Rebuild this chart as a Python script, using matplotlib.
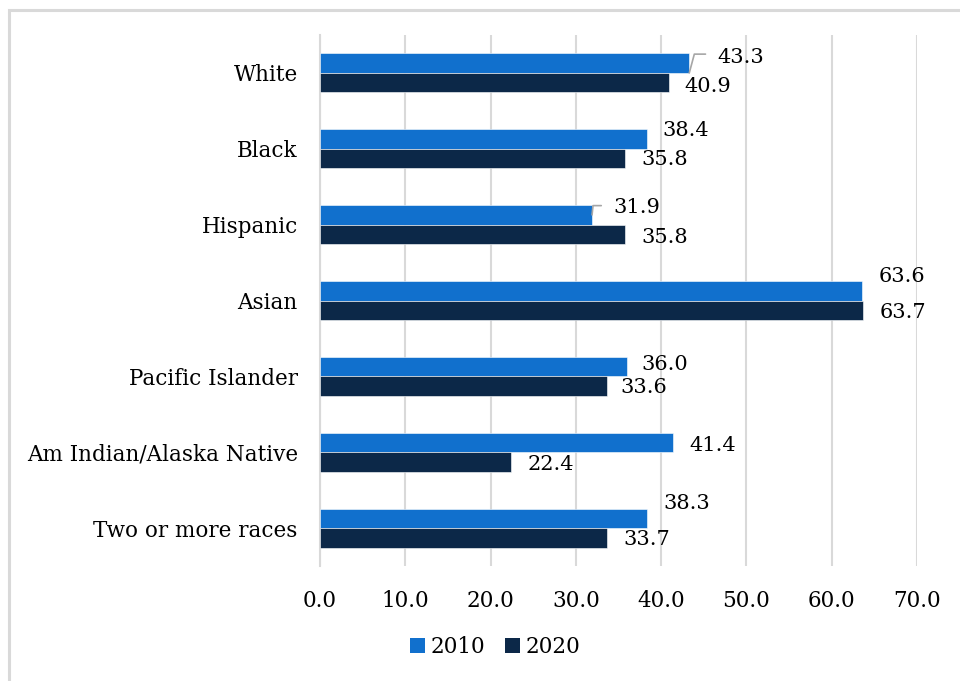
import matplotlib
matplotlib.use('Agg')
import matplotlib.pyplot as plt
from matplotlib.patches import Rectangle, Patch
import numpy as np

groups = ['White', 'Black', 'Hispanic', 'Asian', 'Pacific Islander',
          'Am Indian/Alaska Native', 'Two or more races']
vals_2010 = [43.3, 38.4, 31.9, 63.6, 36.0, 41.4, 38.3]
vals_2020 = [40.9, 35.8, 35.8, 63.7, 33.6, 22.4, 33.7]
xticks = [0, 10, 20, 30, 40, 50, 60, 70]

# label nudges in pixels (dx, dy up)
off_2010 = [(28, 15), (15, 9), (21, 7), (16, 14), (14, 2), (16, -3), (17, 15)]
off_2020 = [(16, -4), (16, -1), (16, -3), (16, -2), (14, -1), (17, -3), (16, -2)]
# groups whose 2010 label hangs on a leader line: angle at bar end, start point (fraction of bar below centre), relpos y
leaders = {0: (75, 0.5, 0.7), 2: (84, 0.0, 0.62)}

c2010 = '#1170cd'
c2020 = '#0c2848'
grid_c = '#d9d9d9'
lab_size = 15
tick_size = 15.5

plt.rcParams['font.family'] = ['DejaVu Serif']

fig = plt.figure(figsize=(9.6, 6.81), dpi=100)
ax = fig.add_axes([320 / 960, 1 - 566 / 681, 597 / 960, 531 / 681])

y = np.arange(len(groups))
h = 0.257
ax.barh(y - h / 2, vals_2010, height=h, color=c2010, edgecolor='white', linewidth=0.4, zorder=3)
ax.barh(y + h / 2, vals_2020, height=h, color=c2020, edgecolor='white', linewidth=0.4, zorder=3)

for i in range(len(groups)):
    dx, dy = off_2010[i]
    if i in leaders:
        ang, frac, ry = leaders[i]
        ax.annotate(f'{vals_2010[i]:.1f}', xy=(vals_2010[i], y[i] - h / 2 + frac * h),
                    xytext=(dx, dy), textcoords='offset pixels', ha='left', va='center',
                    fontsize=lab_size, zorder=4,
                    arrowprops=dict(arrowstyle='-', color='#a6a6a6', lw=1.2, shrinkA=6.5, shrinkB=0,
                                    relpos=(0, ry),
                                    connectionstyle=f'angle,angleA=0,angleB={ang},rad=0'))
    else:
        ax.annotate(f'{vals_2010[i]:.1f}', xy=(vals_2010[i], y[i] - h / 2),
                    xytext=(dx, dy), textcoords='offset pixels', ha='left', va='center',
                    fontsize=lab_size, zorder=4)
    dx, dy = off_2020[i]
    ax.annotate(f'{vals_2020[i]:.1f}', xy=(vals_2020[i], y[i] + h / 2),
                xytext=(dx, dy), textcoords='offset pixels', ha='left', va='center',
                fontsize=lab_size, zorder=4)

ax.set_xlim(0, 70)
ax.set_ylim(len(groups) - 0.5, -0.5)
ax.set_xticks(xticks)
ax.set_xticklabels([f'{t:.1f}' for t in xticks], fontsize=tick_size)
ax.set_yticks(y)
ax.set_yticklabels(groups, fontsize=tick_size)
ax.tick_params(axis='x', length=0, pad=17)
ax.tick_params(axis='y', length=0, pad=16)
ax.grid(axis='x', color=grid_c, linewidth=1.5, zorder=0)
ax.set_axisbelow(True)
for s in ['top', 'right', 'bottom']:
    ax.spines[s].set_visible(False)
ax.spines['left'].set_color(grid_c)
ax.spines['left'].set_linewidth(1.5)

handles = [Patch(facecolor=c2010, label='2010'), Patch(facecolor=c2020, label='2020')]
fig.legend(handles=handles, loc='center', bbox_to_anchor=(495 / 960, 1 - 647 / 681),
           ncol=2, frameon=False, fontsize=tick_size, handlelength=0.7, handleheight=0.7,
           handletextpad=0.25, columnspacing=0.9)

# outer chart border, running off the right and bottom edges
fig.patches.append(Rectangle((9 / 960, -0.5), 2, 0.5 + (681 - 10) / 681, transform=fig.transFigure,
                             fill=False, edgecolor=grid_c, linewidth=2.2))

fig.savefig('out.png', dpi=100)
